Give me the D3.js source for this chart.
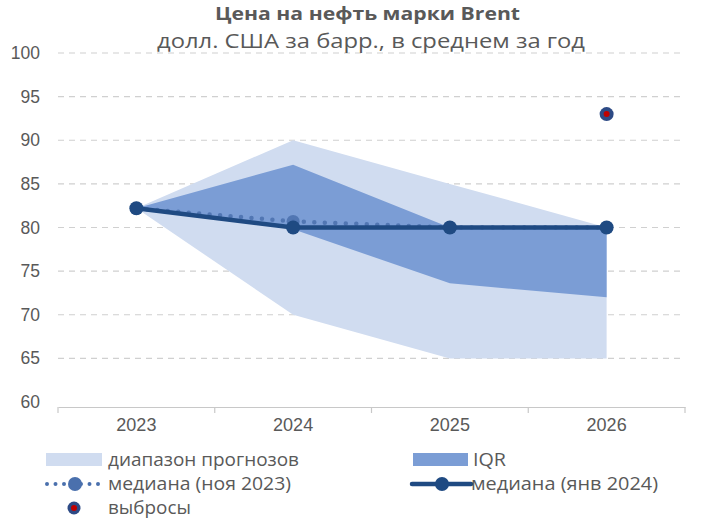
<!DOCTYPE html>
<html><head><meta charset="utf-8">
<script src="https://cdn.jsdelivr.net/npm/d3@7"></script>
<style>body{margin:0;background:#fff}svg{display:block}</style>
</head><body>
<svg id="c" width="705" height="522"></svg>
<script>
const years = ["2023","2024","2025","2026"];
const rangeLow  = [82.2, 70, 65, 65];
const rangeHigh = [82.2, 90, 85, 80];
const iqrLow    = [82.2, 79.8, 73.6, 72];
const iqrHigh   = [82.2, 87.2, 80, 80];
const medNov    = [82.2, 80.7, 80, 80];
const medJan    = [82.2, 80, 80, 80];
const outliers  = [{year:"2026", value:93}];
const yTicks    = [60,65,70,75,80,85,90,95,100];

const svg = d3.select("#c");
const grey = "#595959";
const font = "'Liberation Sans', Arial, sans-serif";
const lfont = "'Open Sans', sans-serif";

const x = d3.scaleBand().domain(years).range([58,685]);
const cx = d => x(d) + x.bandwidth()/2;
const y = d3.scaleLinear().domain([60,100]).range([402,53]);

// grid
svg.append("g").selectAll("line").data(yTicks.filter(t=>t>60)).join("line")
  .attr("x1",58).attr("x2",685).attr("y1",d=>y(d)).attr("y2",d=>y(d))
  .attr("stroke","#d0d0d0").attr("stroke-width",1.2).attr("stroke-dasharray","6,5");

const area = (lo,hi) => d3.area().x((d,i)=>cx(years[i])).y0((d,i)=>y(lo[i])).y1((d,i)=>y(hi[i]))(years);
svg.append("path").attr("d",area(rangeLow,rangeHigh)).attr("fill","#d0dcf0");
svg.append("path").attr("d",area(iqrLow,iqrHigh)).attr("fill","#7b9dd5");

// y axis labels
svg.append("g").selectAll("text").data(yTicks).join("text")
  .attr("x",40).attr("y",d=>y(d)+6).attr("text-anchor","end")
  .attr("font-family",font).attr("font-size",17.5).attr("fill",grey).text(d=>d);

// x axis
const xa = svg.append("g").attr("transform","translate(0,407)")
  .call(d3.axisBottom(x).tickSize(0).tickFormat(""));
xa.select(".domain").attr("stroke","#c8c8c8").attr("stroke-width",1.2);
const bounds = years.map(d=>x(d)).concat([685]);
svg.append("g").selectAll("line").data(bounds).join("line")
  .attr("x1",d=>d).attr("x2",d=>d).attr("y1",407).attr("y2",413)
  .attr("stroke","#c8c8c8").attr("stroke-width",1.2);
svg.append("g").selectAll("text").data(years).join("text")
  .attr("x",d=>cx(d)).attr("y",431).attr("text-anchor","middle")
  .attr("font-family",font).attr("font-size",18).attr("fill",grey).text(d=>d);

// median Nov
const line = arr => d3.line().x((d,i)=>cx(years[i])).y((d,i)=>y(arr[i]))(years);
svg.append("path").attr("d",line(medNov)).attr("fill","none")
  .attr("stroke","#4a70ad").attr("stroke-width",4.5).attr("stroke-linecap","round")
  .attr("stroke-dasharray","0,10.5").attr("opacity",0.85);
svg.append("g").selectAll("circle").data(medNov).join("circle")
  .attr("cx",(d,i)=>cx(years[i])).attr("cy",d=>y(d)).attr("r",6.5).attr("fill","#4a70ad").attr("opacity",0.85);

// median Jan
svg.append("path").attr("d",line(medJan)).attr("fill","none")
  .attr("stroke","#1f4a82").attr("stroke-width",4.5);
svg.append("g").selectAll("circle").data(medJan).join("circle")
  .attr("cx",(d,i)=>cx(years[i])).attr("cy",d=>y(d)).attr("r",7).attr("fill","#1f4a82");

// outliers
const og = svg.append("g").selectAll("g").data(outliers).join("g")
  .attr("transform",d=>`translate(${cx(d.year)},${y(d.value)})`);
og.append("circle").attr("r",7).attr("fill","#2d4a85");
og.append("circle").attr("r",3).attr("fill","#c00000");

// titles
svg.append("text").attr("x",215).attr("y",20)
  .attr("font-family",lfont).attr("font-weight","bold").attr("font-size",18).attr("fill",grey)
  .attr("textLength",305).attr("lengthAdjust","spacingAndGlyphs")
  .text("Цена на нефть марки Brent");
svg.append("text").attr("x",157).attr("y",48)
  .attr("font-family",lfont).attr("font-size",20).attr("fill",grey)
  .attr("textLength",428).attr("lengthAdjust","spacingAndGlyphs")
  .text("долл. США за барр., в среднем за год");

// legend
const lg = svg.append("g").attr("font-family",lfont).attr("font-size",19).attr("fill",grey);
const lt = (tx,ty,len,s) => lg.append("text").attr("x",tx).attr("y",ty)
  .attr("textLength",len).attr("lengthAdjust","spacingAndGlyphs").text(s);
lg.append("rect").attr("x",46).attr("y",453).attr("width",56).attr("height",13).attr("fill","#d0dcf0");
lt(108,466,191,"диапазон прогнозов");
lg.append("rect").attr("x",413).attr("y",453).attr("width",55).attr("height",13).attr("fill","#7b9dd5");
lt(473,466,33,"IQR");
lg.append("line").attr("x1",47).attr("x2",102).attr("y1",484).attr("y2",484)
  .attr("stroke","#4a70ad").attr("stroke-width",4).attr("stroke-linecap","round").attr("stroke-dasharray","0,8.5");
lg.append("circle").attr("cx",75).attr("cy",484).attr("r",7).attr("fill","#4a70ad");
lt(108,490,183,"медиана (ноя 2023)");
lg.append("line").attr("x1",412).attr("x2",471).attr("y1",484).attr("y2",484)
  .attr("stroke","#1f4a82").attr("stroke-width",4.5).attr("stroke-linecap","round");
lg.append("circle").attr("cx",442).attr("cy",484).attr("r",7).attr("fill","#1f4a82");
lt(471,490,187,"медиана (янв 2024)");
lg.append("circle").attr("cx",74).attr("cy",508).attr("r",6.5).attr("fill","#2d4a85");
lg.append("circle").attr("cx",74).attr("cy",508).attr("r",3).attr("fill","#c00000");
lt(108,514,83,"выбросы");
</script>
</body></html>
